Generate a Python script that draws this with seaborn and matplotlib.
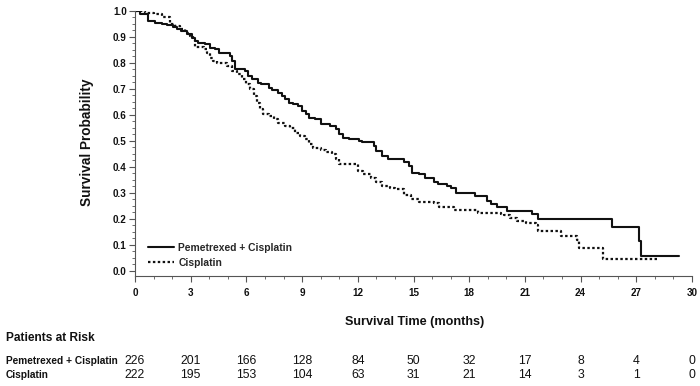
import matplotlib
matplotlib.use("Agg")
import matplotlib.pyplot as plt
import matplotlib.transforms as mtransforms
from matplotlib.ticker import MultipleLocator
import seaborn as sns
import pandas as pd

# ---- data ----
pem_time = [0, 0.27, 0.72, 1.08, 1.44, 1.7, 2.07, 2.25, 2.5, 2.8, 3.06, 3.24, 3.4, 3.78,
            4.05, 4.3, 4.5, 5.1, 5.2, 5.4, 5.9, 6.1, 6.3, 6.65, 6.8, 7.2, 7.4, 7.7, 7.9,
            8.1, 8.3, 8.5, 8.8, 9.0, 9.2, 9.35, 9.7, 10.0, 10.5, 10.8, 11.0, 11.2, 11.5,
            12.05, 12.2, 12.85, 13.0, 13.3, 13.6, 14.5, 14.75, 14.9, 15.3, 15.6, 16.1,
            16.3, 16.8, 17.0, 17.3, 18.3, 18.98, 19.16, 19.5, 20.06, 21.4, 21.68, 25.7,
            27.16, 27.25, 29.3]
pem_surv = [1.0, 0.99, 0.96, 0.955, 0.95, 0.945, 0.94, 0.93, 0.923, 0.91, 0.897, 0.885,
            0.878, 0.872, 0.859, 0.853, 0.84, 0.827, 0.808, 0.778, 0.769, 0.75, 0.737,
            0.724, 0.718, 0.705, 0.696, 0.686, 0.673, 0.66, 0.647, 0.641, 0.635, 0.615,
            0.603, 0.59, 0.583, 0.564, 0.558, 0.545, 0.526, 0.513, 0.506, 0.5, 0.494,
            0.481, 0.462, 0.442, 0.432, 0.417, 0.404, 0.378, 0.372, 0.359, 0.342, 0.336,
            0.327, 0.317, 0.301, 0.288, 0.269, 0.256, 0.244, 0.231, 0.218, 0.201, 0.167,
            0.115, 0.058, 0.058]

cis_time = [0, 0.54, 1.0, 1.44, 1.9, 2.16, 2.4, 2.7, 2.97, 3.15, 3.24, 3.7, 3.87, 4.05,
            4.2, 4.4, 4.95, 5.2, 5.5, 5.75, 6.0, 6.2, 6.4, 6.56, 6.74, 6.9, 7.2, 7.46,
            7.7, 8.1, 8.36, 8.6, 8.9, 9.17, 9.35, 9.6, 10.0, 10.3, 10.6, 10.8, 11.0,
            12.0, 12.3, 12.7, 13.0, 13.3, 13.76, 14.0, 14.5, 14.84, 15.3, 16.1, 16.4,
            17.2, 18.5, 19.7, 19.9, 20.2, 20.6, 21.05, 21.6, 21.7, 22.93, 23.8, 23.89,
            25.2, 28.1]
cis_surv = [1.0, 0.994, 0.987, 0.978, 0.95, 0.942, 0.93, 0.917, 0.904, 0.89, 0.862,
            0.853, 0.84, 0.82, 0.808, 0.8, 0.788, 0.769, 0.756, 0.737, 0.718, 0.7,
            0.673, 0.647, 0.622, 0.603, 0.594, 0.583, 0.57, 0.558, 0.551, 0.532, 0.519,
            0.506, 0.487, 0.474, 0.465, 0.458, 0.449, 0.429, 0.41, 0.385, 0.372, 0.359,
            0.34, 0.327, 0.32, 0.314, 0.291, 0.278, 0.265, 0.26, 0.244, 0.235, 0.224,
            0.22, 0.214, 0.205, 0.192, 0.183, 0.176, 0.154, 0.135, 0.119, 0.087, 0.045,
            0.045]

risk_times = [0, 3, 6, 9, 12, 15, 18, 21, 24, 27, 30]
pem_risk = [226, 201, 166, 128, 84, 50, 32, 17, 8, 4, 0]
cis_risk = [222, 195, 153, 104, 63, 31, 21, 14, 3, 1, 0]

pem_label = "Pemetrexed + Cisplatin"
cis_label = "Cisplatin"

# ---- plot ----
sns.set_style("white")
plt.rcParams['font.family'] = ['Liberation Sans', 'DejaVu Sans']
plt.rcParams.update({
    "xtick.bottom": True, "ytick.left": True,
    "xtick.major.size": 4, "ytick.major.size": 4,
    "xtick.minor.size": 2, "ytick.minor.size": 2,
    "xtick.minor.visible": True, "ytick.minor.visible": True,
})

fig = plt.figure(figsize=(7.0, 3.86), dpi=100)
ax = fig.add_axes([135/700, 1 - 276/386, (692 - 135)/700, (276 - 11)/386])

df_p = pd.DataFrame({"t": pem_time, "s": pem_surv})
df_c = pd.DataFrame({"t": cis_time, "s": cis_surv})
sns.lineplot(data=df_p, x="t", y="s", ax=ax, estimator=None, drawstyle="steps-post",
             color="#111111", lw=1.5, label=pem_label)
sns.lineplot(data=df_c, x="t", y="s", ax=ax, estimator=None, drawstyle="steps-post",
             color="#111111", lw=1.6, linestyle=(0, (1.1, 1.1)), label=cis_label)

ax.set_xlim(0, 30)
ax.set_ylim(-0.02, 1.0)
ax.set_xticks(range(0, 31, 3))
ax.set_yticks([i / 10 for i in range(11)])
ax.set_yticklabels([f"{i/10:.1f}" for i in range(11)])
ax.xaxis.set_minor_locator(MultipleLocator(1))
ax.yaxis.set_minor_locator(MultipleLocator(0.025))
for s in ["top", "right"]:
    ax.spines[s].set_visible(False)
for s in ["left", "bottom"]:
    ax.spines[s].set_color("#555555")
    ax.spines[s].set_linewidth(0.8)
ax.tick_params(axis="both", which="both", bottom=True, left=True, top=False, right=False)
ax.tick_params(axis="both", which="major", direction="out", length=4, width=0.8,
               color="#555555", labelsize=7.1, pad=2)
ax.tick_params(axis="both", which="minor", direction="out", length=2, width=0.6,
               color="#555555")
ax.tick_params(axis="x", which="major", pad=5)
for lbl in ax.get_xticklabels() + ax.get_yticklabels():
    lbl.set_fontweight("bold")
    lbl.set_color("#111111")
ax.set_xlabel("")
ax.set_ylabel("")

leg = ax.legend(loc="lower left", bbox_to_anchor=(0.012, 0.008), frameon=False,
                prop={"size": 7.4, "weight": "bold"}, handlelength=2.5,
                handletextpad=0.45, labelspacing=0.45, borderaxespad=0.2)

fig.text(87.5/700, 1 - 142/386, "Survival Probability", rotation=90, ha="center",
         va="center", fontsize=9.8, fontweight="bold", color="#111111")
fig.text(415/700, 1 - 322/386, "Survival Time (months)",
         ha="center", va="center", fontsize=9.1, fontweight="bold", color="#111111")

# ---- risk table ----
fig.text(6/700, 1 - 338/386, "Patients at Risk", ha="left", va="center", fontsize=8.6,
         fontweight="bold", color="#111111")
trans = mtransforms.blended_transform_factory(ax.transData, fig.transFigure)
row_y = [1 - 360.5/386, 1 - 375.5/386]
for y, lab, vals in zip(row_y, [pem_label, cis_label], [pem_risk, cis_risk]):
    fig.text(6/700, y, lab, ha="left", va="center", fontsize=7.3, fontweight="bold",
             color="#111111")
    for t, v in zip(risk_times, vals):
        ax.text(t, y, str(v), transform=trans, ha="center", va="center", fontsize=8.8,
                clip_on=False, color="#111111")

fig.savefig("out.png", dpi=100)
